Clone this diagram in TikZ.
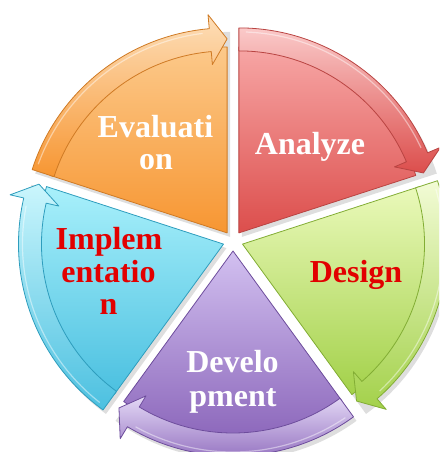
\documentclass[tikz,border=0pt]{standalone}
\usepackage{fontspec}
\setmainfont{Liberation Serif}
\definecolor{anaT}{HTML}{F7A6A5}
\definecolor{anaB}{HTML}{DC4E4C}
\definecolor{anaE}{HTML}{B94442}
\definecolor{evaT}{HTML}{FCC98A}
\definecolor{evaB}{HTML}{F79632}
\definecolor{evaE}{HTML}{CF7A24}
\definecolor{impT}{HTML}{A8F0FB}
\definecolor{impB}{HTML}{4BC0E0}
\definecolor{impE}{HTML}{2E9DBD}
\definecolor{devT}{HTML}{D2C0F0}
\definecolor{devB}{HTML}{8862B8}
\definecolor{devE}{HTML}{6D4C9C}
\definecolor{desT}{HTML}{EAF9BA}
\definecolor{desB}{HTML}{A3D14A}
\definecolor{desE}{HTML}{82AD34}
\definecolor{lblred}{HTML}{E20000}
\newcommand\cycshadow[1]{%
  \begin{scope}[shift={(236pt,207pt)},shift={(#1+36:10pt)}]
    \fill[black,opacity=0.13]
      (0,0) -- (#1:205pt) arc[start angle=#1, end angle=#1+72, radius=205pt] -- cycle;
  \end{scope}}
\newcommand\cycseg[4]{%
  \begin{scope}[shift={(233pt,211pt)},shift={(#1+36:10pt)}]
    \shade[top color=#2, bottom color=#3, draw=#4, line width=0.8pt, line join=round]
      (0,0) -- (#1:186pt) arc[start angle=#1, end angle=#1+72, radius=186pt] -- cycle;
    \shade[top color=#2!60!white, bottom color=#3, draw=#4, line width=0.8pt, line join=round]
      (#1+72:205pt) arc[start angle=#1+72, end angle=#1+5, radius=205pt]
      -- (#1+5:219pt) -- (#1:194pt) -- (#1+5:169pt) -- (#1+5:182pt)
      arc[start angle=#1+5, end angle=#1+72, radius=182pt] -- cycle;
    \draw[white,opacity=0.45,line width=1.2pt]
      (#1+70:201pt) arc[start angle=#1+70, end angle=#1+7, radius=201pt];
  \end{scope}}
\begin{document}
\begin{tikzpicture}[x=1pt,y=1pt,
  lbl/.style={font=\bfseries\fontsize{32}{33}\selectfont, inner sep=0pt, anchor=base},
  white lbl/.style={lbl, text=white},
  red lbl/.style={lbl, text=lblred}]
\useasboundingbox (0,0) rectangle (439,452);
\clip (0,0) rectangle (439,452);
\cycshadow{18}\cycshadow{90}\cycshadow{162}\cycshadow{234}\cycshadow{306}
\cycseg{18}{anaT}{anaB}{anaE}
\cycseg{90}{evaT}{evaB}{evaE}
\cycseg{162}{impT}{impB}{impE}
\cycseg{234}{devT}{devB}{devE}
\cycseg{306}{desT}{desB}{desE}
\node[white lbl] (eval1) at (155.5,314) {Evaluati};
\node[white lbl] (eval2) at (156,282) {on};
\node[white lbl] (ana) at (310,297) {Analyze};
\node[red lbl] (des) at (356,169) {Design};
\node[red lbl] (imp1) at (109,202) {Implem};
\node[red lbl] (imp2) at (108.5,169) {entatio};
\node[red lbl] (imp3) at (108.5,137) {n};
\node[white lbl] (dev1) at (232.5,79) {Develo};
\node[white lbl] (dev2) at (233,45) {pment};
\end{tikzpicture}
\end{document}
